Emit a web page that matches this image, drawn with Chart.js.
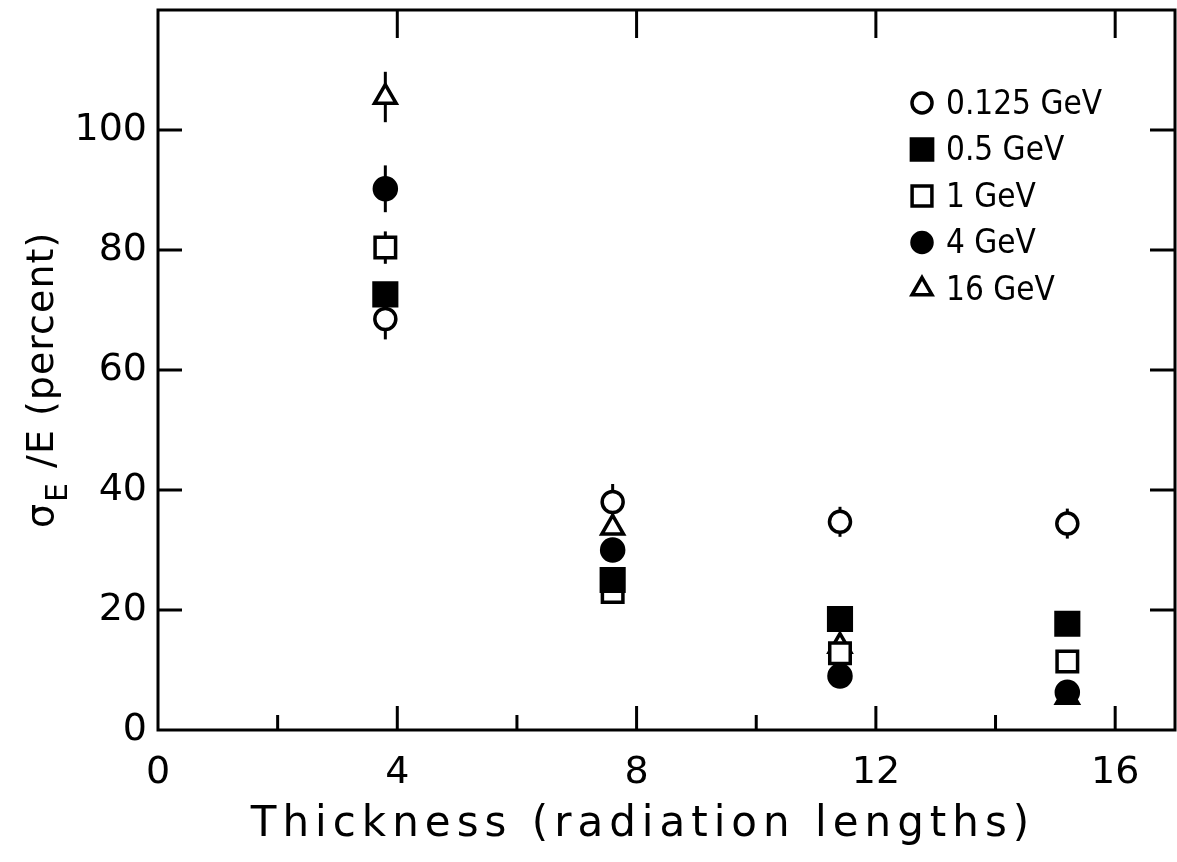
<!DOCTYPE html>
<html><head><meta charset="utf-8">
<script src="https://cdn.jsdelivr.net/npm/chart.js@4"></script>
<style>html,body{margin:0;padding:0;background:#fff;}#wrap{width:1177px;height:862px;}</style>
</head><body><div id="wrap"><canvas id="c" width="1177" height="862"></canvas></div>
<script>
// ---- data ----
const thickness = [3.8, 7.6, 11.4, 15.2];
const energyLabels = ['0.125 GeV', '0.5 GeV', '1 GeV', '4 GeV', '16 GeV'];
const res0125 = [68.5, 38.0, 34.7, 34.4];
const err0125 = [3.4, 3.0, 2.5, 2.5];
const res05 = [72.6, 25.0, 18.5, 17.7];
const err05 = [2.0, 1.0, 1.0, 1.0];
const res1 = [80.4, 23.0, 12.8, 11.4];
const err1 = [2.7, 1.0, 1.0, 1.0];
const res4 = [90.2, 30.0, 9.0, 6.3];
const err4 = [3.9, 1.0, 1.0, 1.0];
const res16 = [105.5, 33.7, 14.0, 5.5];
const err16 = [4.2, 1.0, 1.5, 1.0];
const xTicks = [0, 4, 8, 12, 16];
const xMinorTicks = [2, 6, 10, 14];
const yTicks = [0, 20, 40, 60, 80, 100];
const xTitle = 'Thickness (radiation lengths)';

const FONT = '"DejaVu Sans", sans-serif';
const LEGFONT = '"DejaVu Sans Condensed", "DejaVu Sans", sans-serif';

function mk(label, vals, errs, style, filled, radius) {
  return {
    label, errs,
    data: thickness.map((x, i) => ({x, y: vals[i]})),
    pointStyle: style, pointRadius: radius, pointHoverRadius: radius,
    pointBackgroundColor: filled ? '#000' : '#fff',
    pointBorderColor: '#000', pointBorderWidth: 3.5, showLine: false
  };
}
const datasets = [
  mk(energyLabels[0], res0125, err0125, 'circle', false, 10.5),
  mk(energyLabels[1], res05, err05, 'rect', true, 16),
  mk(energyLabels[2], res1, err1, 'rect', false, 14.5),
  mk(energyLabels[3], res4, err4, 'circle', true, 11),
  mk(energyLabels[4], res16, err16, 'triangle', false, 12.5)
];

function drawMarker(ctx, style, filled, r, x, y) {
  ctx.save();
  ctx.lineWidth = 3.5; ctx.strokeStyle = '#000';
  ctx.fillStyle = filled ? '#000' : '#fff';
  ctx.beginPath();
  if (style === 'circle') ctx.arc(x, y, r, 0, Math.PI * 2);
  else if (style === 'rect') { const s = r * Math.SQRT1_2; ctx.rect(x - s, y - s, 2 * s, 2 * s); }
  else if (style === 'triangle') {
    let a = 0;
    ctx.moveTo(x + Math.sin(a) * r, y - Math.cos(a) * r); a += 2 * Math.PI / 3;
    ctx.lineTo(x + Math.sin(a) * r, y - Math.cos(a) * r); a += 2 * Math.PI / 3;
    ctx.lineTo(x + Math.sin(a) * r, y - Math.cos(a) * r); ctx.closePath();
  }
  ctx.fill(); ctx.stroke();
  ctx.restore();
}

const errorBars = {
  id: 'errorBars',
  beforeDatasetsDraw(chart) {
    const ctx = chart.ctx, xs = chart.scales.x, ys = chart.scales.y;
    ctx.save(); ctx.strokeStyle = '#000'; ctx.lineWidth = 3;
    chart.data.datasets.forEach(ds => {
      ds.data.forEach((p, i) => {
        const e = ds.errs[i], px = xs.getPixelForValue(p.x);
        ctx.beginPath();
        ctx.moveTo(px, ys.getPixelForValue(p.y - e));
        ctx.lineTo(px, ys.getPixelForValue(p.y + e));
        ctx.stroke();
      });
    });
    ctx.restore();
  }
};

const frame = {
  id: 'frame',
  afterDraw(chart) {
    const ctx = chart.ctx, a = chart.chartArea, xs = chart.scales.x, ys = chart.scales.y;
    ctx.save(); ctx.strokeStyle = '#000'; ctx.lineWidth = 3;
    ctx.strokeRect(a.left, a.top, a.right - a.left, a.bottom - a.top);
    ctx.beginPath();
    xTicks.forEach(v => { if (v === 0) return; const px = xs.getPixelForValue(v);
      ctx.moveTo(px, a.bottom); ctx.lineTo(px, a.bottom - 24);
      ctx.moveTo(px, a.top); ctx.lineTo(px, a.top + 28); });
    xMinorTicks.forEach(v => { const px = xs.getPixelForValue(v);
      ctx.moveTo(px, a.bottom); ctx.lineTo(px, a.bottom - 15); });
    yTicks.forEach(v => { if (v === 0) return; const py = ys.getPixelForValue(v);
      ctx.moveTo(a.left, py); ctx.lineTo(a.left + 24, py);
      ctx.moveTo(a.right, py); ctx.lineTo(a.right - 25, py); });
    ctx.stroke();
    ctx.restore();

    // legend
    ctx.save();
    ctx.fillStyle = '#000'; ctx.font = '33px ' + LEGFONT; ctx.textBaseline = 'middle';
    chart.data.datasets.forEach((ds, i) => {
      const y = 103 + i * 46.5;
      const r = ds.pointStyle === 'rect' ? (ds.pointBackgroundColor === '#000' ? 15 : 14) : (ds.pointStyle === 'triangle' ? 11.5 : 10);
      drawMarker(ctx, ds.pointStyle, ds.pointBackgroundColor === '#000', r, 922, y);
      ctx.fillText(ds.label, 946, y + 2);
    });
    ctx.restore();

    // x title
    ctx.save();
    ctx.fillStyle = '#000'; ctx.font = '42px ' + FONT;
    ctx.textAlign = 'center'; ctx.textBaseline = 'alphabetic';
    ctx.letterSpacing = '6px';
    ctx.fillText(xTitle, 643, 836);
    ctx.restore();

    // y title: sigma_E /E (percent)
    ctx.save();
    ctx.fillStyle = '#000';
    ctx.translate(53, 528); ctx.rotate(-Math.PI / 2);
    ctx.textBaseline = 'alphabetic'; ctx.textAlign = 'left';
    ctx.font = '38px ' + FONT;
    ctx.fillText('σ', 0, 0);
    let w = ctx.measureText('σ').width;
    ctx.font = '30px ' + FONT;
    ctx.fillText('E', w + 2, 14);
    w += 2 + ctx.measureText('E').width;
    ctx.font = '38px ' + FONT;
    ctx.letterSpacing = '1px';
    ctx.fillText(' /E (percent)', w + 2, 0);
    ctx.restore();
  }
};

function zeroPad(s) { s.paddingTop = 0; s.paddingBottom = 0; s.paddingLeft = 0; s.paddingRight = 0; }

new Chart(document.getElementById('c'), {
  type: 'scatter',
  data: {datasets},
  options: {
    responsive: false, animation: false, devicePixelRatio: 1,
    layout: {autoPadding: false, padding: {top: 10, right: 2, left: 0, bottom: 0}},
    plugins: {legend: {display: false}, tooltip: {enabled: false}},
    scales: {
      x: {
        type: 'linear', min: 0, max: 17,
        afterBuildTicks: s => { s.ticks = xTicks.map(v => ({value: v})); },
        afterFit: s => { s.height = 132; zeroPad(s); },
        grid: {display: false, drawTicks: false}, border: {display: false},
        ticks: {padding: 20, color: '#000', font: {family: FONT, size: 38}}
      },
      y: {
        type: 'linear', min: 0, max: 120,
        afterBuildTicks: s => { s.ticks = yTicks.map(v => ({value: v})); },
        afterFit: s => { s.width = 158; zeroPad(s); },
        grid: {display: false, drawTicks: false}, border: {display: false},
        ticks: {padding: 11, color: '#000', font: {family: FONT, size: 38}}
      }
    }
  },
  plugins: [errorBars, frame]
});
</script></body></html>
